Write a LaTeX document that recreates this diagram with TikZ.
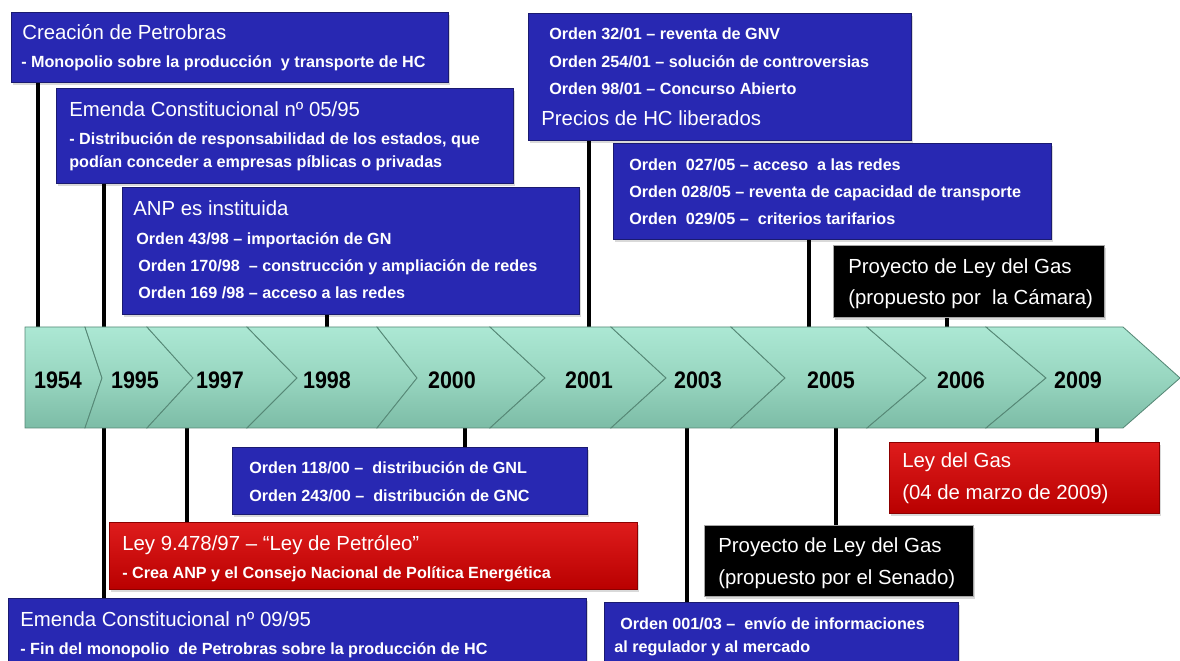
\documentclass[tikz,border=0pt]{standalone}
\usepackage{fontspec}
\setmainfont{Liberation Sans}
\newfontfamily\yearfont{Liberation Sans}[FakeStretch=0.9]
\usetikzlibrary{shadows}

\definecolor{boxblue}{RGB}{40,40,178}
\definecolor{boxedge}{RGB}{26,26,112}
\definecolor{redtop}{RGB}{222,28,28}
\definecolor{redbot}{RGB}{185,0,0}
\definecolor{rededge}{RGB}{140,0,0}
\definecolor{bandtop}{RGB}{172,232,212}
\definecolor{bandmid}{RGB}{152,214,192}
\definecolor{bandbot}{RGB}{124,188,166}
\definecolor{bandedge}{RGB}{86,136,118}

\newcommand{\pxu}{0.025cm}

\begin{document}
\begin{tikzpicture}[x=0.025cm, y=-0.025cm,
    infobox/.style={rectangle, anchor=north west, inner sep=0pt, line width=0.8pt,
      drop shadow={shadow xshift=1pt, shadow yshift=-1.5pt, opacity=0.3}},
    bluebox/.style={infobox, fill=boxblue, draw=boxedge},
    redbox/.style={infobox, top color=redtop, bottom color=redbot, draw=rededge},
    blackbox/.style={infobox, fill=black, draw=gray!70},
    headtxt/.style={anchor=base west, inner sep=0pt, text=white, font=\fontsize{14.5}{16}\selectfont},
    bodytxt/.style={anchor=base west, inner sep=0pt, text=white, font=\fontsize{11.5}{13}\selectfont\bfseries},
    yeartxt/.style={inner sep=0pt, font=\yearfont\fontsize{17}{19}\selectfont\bfseries},
    stem/.style={line width=2.6pt, black},
    chev/.style={top color=bandtop, bottom color=bandbot, middle color=bandmid, draw=bandedge, line width=0.6pt}]

    \clip (0,0) rectangle (1180,661);

    % Puntos de la banda
    \coordinate (t1954) at (38,330);
    \coordinate (t1995) at (104,330);
    \coordinate (t1998) at (327,330);
    \coordinate (t2001) at (589,330);
    \coordinate (t2005) at (809,330);
    \coordinate (t2006) at (947,330);
    \coordinate (b1995) at (104,425);
    \coordinate (b1997) at (187,425);
    \coordinate (b2000) at (465,425);
    \coordinate (b2003) at (687,425);
    \coordinate (b2005) at (836,425);
    \coordinate (b2009) at (1097,425);

    % Cajas de arriba
    \node[bluebox, minimum width=437*\pxu, minimum height=70*\pxu] (creacion) at (11,12) {};
    \node[bluebox, minimum width=457*\pxu, minimum height=95*\pxu] (emenda05) at (56,88) {};
    \node[bluebox, minimum width=457*\pxu, minimum height=127*\pxu] (anp) at (122,187) {};
    \node[bluebox, minimum width=383*\pxu, minimum height=127*\pxu] (orden01) at (528,13) {};
    \node[bluebox, minimum width=438*\pxu, minimum height=96*\pxu] (orden05) at (613,143) {};
    \node[blackbox, minimum width=271*\pxu, minimum height=72*\pxu] (camara) at (833,245) {};

    % Cajas de abajo
    \node[bluebox, minimum width=355*\pxu, minimum height=67*\pxu] (orden00) at (232,447) {};
    \node[redbox, minimum width=528*\pxu, minimum height=67*\pxu] (ley9478) at (109,522) {};
    \node[bluebox, minimum width=578*\pxu, minimum height=90*\pxu] (emenda09) at (8,598) {};
    \node[bluebox, minimum width=354*\pxu, minimum height=90*\pxu] (orden03) at (604,602) {};
    \node[blackbox, minimum width=269*\pxu, minimum height=71*\pxu] (senado) at (704,525) {};
    \node[redbox, minimum width=270*\pxu, minimum height=71*\pxu] (leygas) at (889,442) {};

    % Conectores
    \draw[stem] (creacion.south -| t1954) -- (t1954);
    \draw[stem] (emenda05.south -| t1995) -- (t1995);
    \draw[stem] (anp.south -| t1998) -- (t1998);
    \draw[stem] (orden01.south -| t2001) -- (t2001);
    \draw[stem] (orden05.south -| t2005) -- (t2005);
    \draw[stem] (camara.south -| t2006) -- (t2006);
    \draw[stem] (b1995) -- (b1995 |- emenda09.north);
    \draw[stem] (b1997) -- (b1997 |- ley9478.north);
    \draw[stem] (b2000) -- (b2000 |- orden00.north);
    \draw[stem] (b2003) -- (b2003 |- orden03.north);
    \draw[stem] (b2005) -- (b2005 |- senado.north);
    \draw[stem] (b2009) -- (b2009 |- leygas.north);

    % Banda de flechas
    \shadedraw[chev] (25,327) -- (85,327) -- (102,378) -- (85,428) -- (25,428) -- cycle;
    \foreach \la/\lb/\ra/\rb in {85/102/147/193, 147/193/247/297, 247/297/377/417,
        377/417/490/545, 490/545/611/666, 611/666/731/785, 731/785/867/926,
        867/926/986/1046, 986/1046/1123/1180}
        \shadedraw[chev] (\la,327) -- (\ra,327) -- (\rb,378) -- (\ra,428) -- (\la,428) -- (\lb,378) -- cycle;

    % Años
    \foreach \yr/\xc in {1954/58, 1995/135, 1997/220, 1998/327, 2000/452,
        2001/589, 2003/698, 2005/831, 2006/961, 2009/1078}
        \node[yeartxt] (y\yr) at (\xc,380) {\yr};

    % Textos
    \node[headtxt] (creacion1) at (22,40) {Creación de Petrobras};
    \node[bodytxt] (creacion2) at (21,68) {- Monopolio sobre la producción \ y transporte de HC};

    \node[headtxt] (emenda05a) at (69,117) {Emenda Constitucional nº 05/95};
    \node[bodytxt] (emenda05b) at (69,145) {- Distribución de responsabilidad de los estados, que};
    \node[bodytxt] (emenda05c) at (69,168) {podían conceder a empresas píblicas o privadas};

    \node[headtxt] (anp1) at (133,216) {ANP es instituida};
    \node[bodytxt] (anp2) at (136,245) {Orden 43/98 – importación de GN};
    \node[bodytxt] (anp3) at (138,272) {Orden 170/98 \ – construcción y ampliación de redes};
    \node[bodytxt] (anp4) at (138,299) {Orden 169 /98 – acceso a las redes};

    \node[bodytxt] (orden01a) at (549,40) {Orden 32/01 – reventa de GNV};
    \node[bodytxt] (orden01b) at (549,68) {Orden 254/01 – solución de controversias};
    \node[bodytxt] (orden01c) at (549,95) {Orden 98/01 – Concurso Abierto};
    \node[headtxt] (orden01d) at (541,126) {Precios de HC liberados};

    \node[bodytxt] (orden05a) at (629,171) {Orden \ 027/05 – acceso \ a las redes};
    \node[bodytxt] (orden05b) at (629,198) {Orden 028/05 – reventa de capacidad de transporte};
    \node[bodytxt] (orden05c) at (629,225) {Orden \ 029/05 – \ criterios tarifarios};

    \node[headtxt] (camara1) at (848,274) {Proyecto de Ley del Gas};
    \node[headtxt] (camara2) at (848,305) {(propuesto por \ la Cámara)};

    \node[bodytxt] (orden00a) at (249,474) {Orden 118/00 – \ distribución de GNL};
    \node[bodytxt] (orden00b) at (249,502) {Orden 243/00 – \ distribución de GNC};

    \node[headtxt] (ley9478a) at (122,551) {Ley 9.478/97 – “Ley de Petróleo”};
    \node[bodytxt] (ley9478b) at (122,579) {- Crea ANP y el Consejo Nacional de Política Energética};

    \node[headtxt] (emenda09a) at (20,627) {Emenda Constitucional nº 09/95};
    \node[bodytxt] (emenda09b) at (20,655) {- Fin del monopolio \ de Petrobras sobre la producción de HC};

    \node[bodytxt] (orden03a) at (620,630) {Orden 001/03 – \ envío de informaciones};
    \node[bodytxt] (orden03b) at (614,653) {al regulador y al mercado};

    \node[headtxt] (senado1) at (718,553) {Proyecto de Ley del Gas};
    \node[headtxt] (senado2) at (718,585) {(propuesto por el Senado)};

    \node[headtxt] (leygas1) at (902,468) {Ley del Gas};
    \node[headtxt] (leygas2) at (902,500) {(04 de marzo de 2009)};
\end{tikzpicture}
\end{document}
